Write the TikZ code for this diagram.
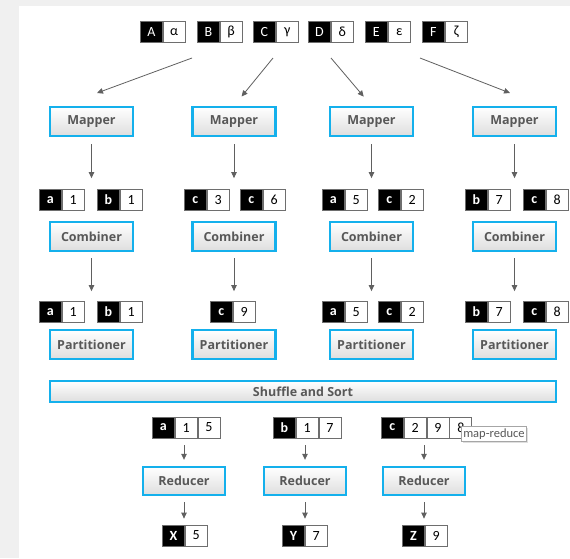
\documentclass[tikz,border=0pt]{standalone}
\usepackage{fontspec}
\setmainfont{Carlito}
\newfontfamily\boxfont{Open Sans}
\usetikzlibrary{arrows.meta,calc,shadows}
\definecolor{boxblue}{RGB}{20,176,236}
\definecolor{txtgray}{RGB}{88,88,88}
\definecolor{arrgray}{RGB}{96,96,96}
\definecolor{bggray}{RGB}{240,240,240}
\definecolor{cellborder}{RGB}{110,110,110}
\tikzset{
  procbox/.style={draw=boxblue, line width=2.4pt, top color=white, bottom color=black!13,
    minimum width=83pt, minimum height=29pt, inner sep=0pt,
    font=\boxfont\bfseries\fontsize{12.5}{14}\selectfont, text=txtgray},
  kcell/.style={draw=cellborder, fill=black, text=white, line width=0.8pt,
    minimum width=22pt, minimum height=21pt, inner sep=0pt,
    font=\bfseries\fontsize{14}{16}\selectfont},
  vcell/.style={draw=cellborder, fill=white, text=black, line width=0.8pt,
    minimum width=22pt, minimum height=21pt, inner sep=0pt,
    font=\fontsize{14}{16}\selectfont},
  arr/.style={draw=arrgray, line width=0.8pt, -{Triangle[length=6pt,width=5.5pt]}},
  tip/.style={draw=black!35, fill=white, line width=0.5pt, drop shadow={opacity=0.25, shadow xshift=1.5pt, shadow yshift=-1.5pt},
    minimum height=14pt, inner sep=2pt, font=\fontsize{12.5}{14}\selectfont, text=txtgray}
}
\newcommand{\kvpair}[4]{%
  \node[kcell, anchor=west] (#1k) at (#2) {#3};
  \xdef\kvprev{#1k}%
  \foreach \vv [count=\ii] in {#4} {%
    \node[vcell, anchor=west] (#1v\ii) at (\kvprev.east) {\vv};
    \xdef\kvprev{#1v\ii}%
  }%
}
\begin{document}
\begin{tikzpicture}[x=1pt, y=-1pt]
\fill[bggray] (0,0) rectangle (570,558);
\fill[white] (19,6) rectangle (570,558);
\useasboundingbox (0,0) rectangle (570,558);

% top input pairs
\kvpair{tA}{140,32}{\mdseries A}{α}
\kvpair{tB}{197,32}{\mdseries B}{β}
\kvpair{tC}{253,32}{\mdseries C}{γ}
\kvpair{tD}{308,32}{\mdseries D}{δ}
\kvpair{tE}{365,32}{\mdseries E}{ε}
\kvpair{tF}{422,32}{\mdseries F}{ζ}

% mappers
\node[procbox] (m1) at (91.5,121.5) {Mapper};
\node[procbox] (m2) at (234,121.5) {Mapper};
\node[procbox] (m3) at (371.5,121.5) {Mapper};
\node[procbox] (m4) at (514.5,121.5) {Mapper};

\coordinate (s1) at (192,58);
\coordinate (s2) at (273,58);
\coordinate (s3) at (331,58);
\coordinate (s4) at (420,58);
\coordinate (e1) at (97,93);
\coordinate (e4) at (510,93);
\draw[arr] (s1) -- (e1);
\draw[arr, shorten >=12pt] (s2) -- (m2.north);
\draw[arr, shorten >=12pt] (s3) -- (m3.north);
\draw[arr] (s4) -- (e4);

% row 1 pairs
\kvpair{pa1}{39,200}{a}{1}
\kvpair{pb1}{97,200}{b}{1}
\kvpair{pc3}{184,200}{c}{3}
\kvpair{pc6}{240,200}{c}{6}
\kvpair{pa5}{322,200}{a}{5}
\kvpair{pc2}{378,200}{c}{2}
\kvpair{pb7}{465,200}{b}{7}
\kvpair{pc8}{523,200}{c}{8}

\foreach \m/\p in {m1/pa1k, m2/pc3k, m3/pa5k, m4/pb7k}
  \draw[arr, shorten <=7pt, shorten >=11pt] (\m.south) -- (\m.south |- \p.north);

% combiners
\node[procbox] (c1) at (91.5,236.5) {Combiner};
\node[procbox] (c2) at (234,236.5) {Combiner};
\node[procbox] (c3) at (371.5,236.5) {Combiner};
\node[procbox] (c4) at (514.5,236.5) {Combiner};

% row 2 pairs
\kvpair{qa1}{39,312}{a}{1}
\kvpair{qb1}{97,312}{b}{1}
\kvpair{qc9}{210,312}{c}{9}
\kvpair{qa5}{322,312}{a}{5}
\kvpair{qc2}{378,312}{c}{2}
\kvpair{qb7}{465,312}{b}{7}
\kvpair{qc8}{523,312}{c}{8}

\foreach \m/\p in {c1/qa1k, c2/qc9k, c3/qa5k, c4/qb7k}
  \draw[arr, shorten <=6pt, shorten >=10pt] (\m.south) -- (\m.south |- \p.north);

% partitioners
\node[procbox] (t1) at (91.5,344.5) {Partitioner};
\node[procbox] (t2) at (234,344.5) {Partitioner};
\node[procbox] (t3) at (371.5,344.5) {Partitioner};
\node[procbox] (t4) at (514.5,344.5) {Partitioner};

% shuffle and sort
\node[procbox, minimum width=506pt, minimum height=21pt] (ss) at (303,391.5) {Shuffle and Sort};

% reducer inputs
\kvpair{ra}{152,427.5}{a}{1,5}
\kvpair{rb}{273,427.5}{b}{1,7}
\kvpair{rc}{381,427.5}{c}{2,9,8}

% reducers
\node[procbox, minimum width=82pt, minimum height=28pt] (r1) at (184,481) {Reducer};
\node[procbox, minimum width=82pt, minimum height=28pt] (r2) at (305,481) {Reducer};
\node[procbox, minimum width=82pt, minimum height=28pt] (r3) at (424,481) {Reducer};

\foreach \r/\p in {r1/rak, r2/rbk, r3/rck}
  \draw[arr, shorten <=7pt, shorten >=6pt] (\r.north |- \p.south) -- (\r.north);

% outputs
\kvpair{ox}{162,535.5}{X}{5}
\kvpair{oy}{282,535.5}{Y}{7}
\kvpair{oz}{402,535.5}{Z}{9}

\foreach \r/\p in {r1/oxk, r2/oyk, r3/ozk}
  \draw[arr, shorten <=6pt, shorten >=6pt] (\r.south) -- (\r.south |- \p.north);

% tooltip
\node[tip, anchor=west] (tt) at (461,434) {map-reduce};
\end{tikzpicture}
\end{document}
